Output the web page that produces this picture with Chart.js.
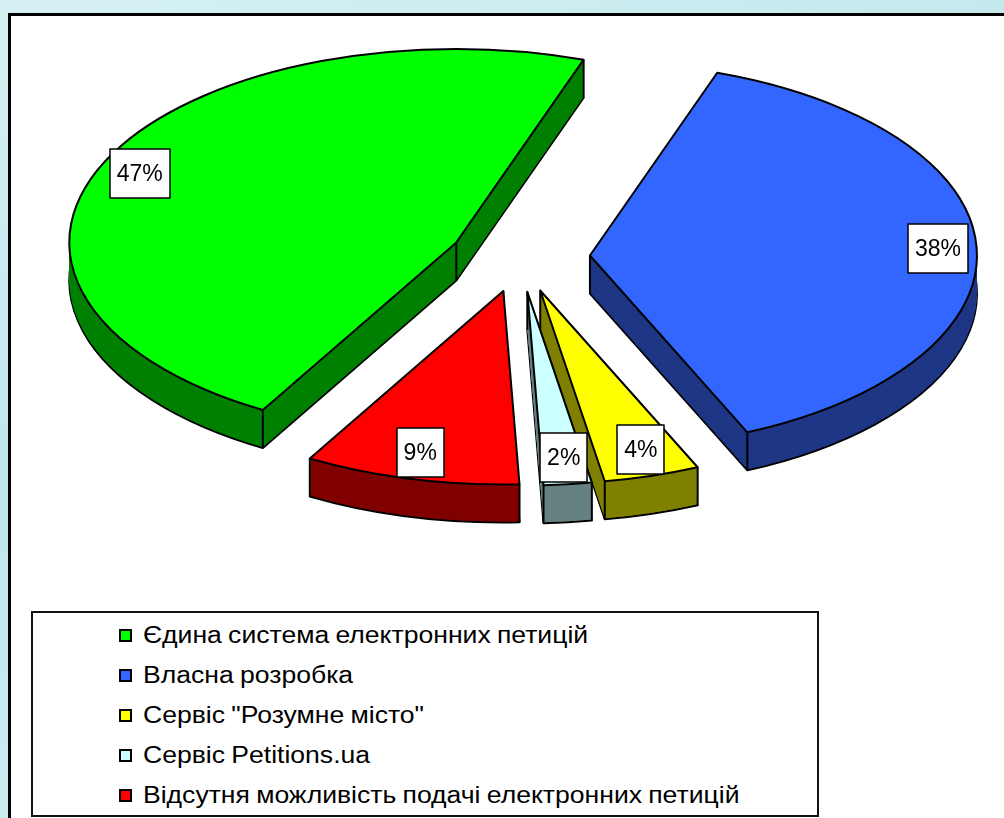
<!DOCTYPE html>
<html lang="uk">
<head>
    <meta charset="UTF-8">
    <title>Електронні петиції</title>
    <script src="https://cdn.jsdelivr.net/npm/chart.js"></script>
    <style>
        html, body {
            margin: 0;
            padding: 0;
        }
        body {
            width: 1004px;
            height: 818px;
            overflow: hidden;
            position: relative;
            background: linear-gradient(160deg, #d6f1f4 0%, #bfe6eb 40%, #c9ecef 70%, #b8e2e8 100%);
            font-family: "Liberation Sans", Arial, sans-serif;
        }
        .panel {
            position: absolute;
            left: 8px;
            top: 13px;
            width: 1010px;
            height: 820px;
            background: #fff;
            border: 3px solid #000;
        }
        .chart-box {
            position: absolute;
            left: 0;
            top: 0;
            width: 1004px;
            height: 818px;
        }
        .legend {
            position: absolute;
            left: 31px;
            top: 611px;
            width: 788px;
            height: 206px;
            border: 2px solid #111;
            box-sizing: border-box;
            background: #fff;
        }
        .legend-item {
            position: absolute;
            left: 86px;
            height: 40px;
            display: flex;
            align-items: center;
            font-size: 23px;
            color: #000;
            white-space: nowrap;
        }
        .legend-item .mark {
            width: 9px;
            height: 9px;
            border: 2px solid #000;
            margin-right: 11px;
        }
        .legend-item .txt {
            display: inline-block;
            transform: scaleX(1.155);
            transform-origin: left center;
            word-spacing: -1px;
        }
    </style>
</head>
<body>
    <div class="panel"></div>
    <div class="chart-box"><canvas id="pieChart"></canvas></div>
    <div class="legend" id="legend"></div>

    <script>
        // Дані діаграми
        const labels = [
            'Єдина система електронних петицій',
            'Власна розробка',
            'Сервіс "Розумне місто"',
            'Сервіс Petitions.ua',
            'Відсутня можливість подачі електронних петицій'
        ];
        const values = [47, 38, 4, 2, 9];

        // Кольори: верхня грань і бокова грань
        const topColors = ['#00ff00', '#3366ff', '#ffff00', '#ccffff', '#ff0000'];
        const sideColors = ['#008000', '#1f3785', '#808000', '#668080', '#800000'];

        // Параметри "3D" вигляду
        const TILT = 0.5;       // стиснення по вертикалі
        const DEPTH = 38;       // товщина пирога
        const EXPLODE = 70;     // винесення секторів
        const LABEL_X = 0.9;    // положення підписів (частка радіуса)
        const LABEL_Y = 0.86;

        function sectorPath(ctx, cx, cy, r, a0, a1) {
            ctx.beginPath();
            ctx.moveTo(cx, cy);
            ctx.ellipse(cx, cy, r, r * TILT, 0, a0, a1);
            ctx.closePath();
        }

        const pie3d = {
            id: 'pie3d',
            beforeDatasetsDraw(chart) {
                const ctx = chart.ctx;
                const arcs = chart.getDatasetMeta(0).data;
                const total = values.reduce((a, b) => a + b, 0);

                const parts = arcs.map((arc, i) => {
                    const mid = (arc.startAngle + arc.endAngle) / 2;
                    return {
                        i: i,
                        a0: arc.startAngle,
                        a1: arc.endAngle,
                        mid: mid,
                        r: arc.outerRadius,
                        cx: arc.x + Math.cos(mid) * EXPLODE,
                        cy: arc.y + Math.sin(mid) * EXPLODE * TILT
                    };
                });

                ctx.save();
                ctx.lineJoin = 'round';

                // бокові грані
                parts.forEach(p => {
                    ctx.fillStyle = sideColors[p.i];
                    ctx.strokeStyle = '#000';
                    ctx.lineWidth = 2;
                    sectorPath(ctx, p.cx, p.cy + DEPTH, p.r, p.a0, p.a1);
                    ctx.fill();
                    ctx.stroke();
                    for (let d = DEPTH - 1; d >= 1; d--) {
                        sectorPath(ctx, p.cx, p.cy + d, p.r, p.a0, p.a1);
                        ctx.fill();
                    }
                    // вертикальні ребра
                    const corners = [
                        [p.cx, p.cy],
                        [p.cx + Math.cos(p.a0) * p.r, p.cy + Math.sin(p.a0) * p.r * TILT],
                        [p.cx + Math.cos(p.a1) * p.r, p.cy + Math.sin(p.a1) * p.r * TILT]
                    ];
                    ctx.beginPath();
                    corners.forEach(c => {
                        ctx.moveTo(c[0], c[1]);
                        ctx.lineTo(c[0], c[1] + DEPTH);
                    });
                    ctx.stroke();
                });

                // верхні грані
                parts.forEach(p => {
                    ctx.fillStyle = topColors[p.i];
                    ctx.strokeStyle = '#000';
                    ctx.lineWidth = 2;
                    sectorPath(ctx, p.cx, p.cy, p.r, p.a0, p.a1);
                    ctx.fill();
                    ctx.stroke();
                });

                // підписи у відсотках
                ctx.font = '23px "Liberation Sans", Arial, sans-serif';
                ctx.textAlign = 'center';
                ctx.textBaseline = 'middle';
                parts.forEach(p => {
                    const text = Math.round(values[p.i] / total * 100) + '%';
                    const lx = p.cx + Math.cos(p.mid) * p.r * LABEL_X;
                    const ly = p.cy + Math.sin(p.mid) * p.r * TILT * LABEL_Y;
                    const w = ctx.measureText(text).width + 14;
                    const h = 49;
                    ctx.fillStyle = '#fff';
                    ctx.fillRect(Math.round(lx - w / 2), Math.round(ly - h / 2), Math.round(w), h);
                    ctx.lineWidth = 1.5;
                    ctx.strokeRect(Math.round(lx - w / 2), Math.round(ly - h / 2), Math.round(w), h);
                    ctx.fillStyle = '#000';
                    ctx.fillText(text, lx, ly + 1);
                });

                ctx.restore();
                return false;
            }
        };

        const ctx = document.getElementById('pieChart').getContext('2d');
        new Chart(ctx, {
            type: 'pie',
            data: {
                labels: labels,
                datasets: [{
                    data: values,
                    backgroundColor: topColors,
                    borderColor: '#000',
                    borderWidth: 2
                }]
            },
            options: {
                responsive: true,
                maintainAspectRatio: false,
                animation: false,
                rotation: 210,
                radius: 387,
                layout: {
                    padding: { left: 36, right: 0, top: 0, bottom: 304 }
                },
                plugins: {
                    legend: { display: false },
                    tooltip: { enabled: false }
                }
            },
            plugins: [pie3d]
        });

        // Легенда
        const legend = document.getElementById('legend');
        labels.forEach((label, i) => {
            const item = document.createElement('div');
            item.className = 'legend-item';
            item.style.top = (2 + i * 40) + 'px';
            const mark = document.createElement('span');
            mark.className = 'mark';
            mark.style.background = topColors[i];
            const text = document.createElement('span');
            text.className = 'txt';
            text.textContent = label;
            item.appendChild(mark);
            item.appendChild(text);
            legend.appendChild(item);
        });
    </script>
</body>
</html>
